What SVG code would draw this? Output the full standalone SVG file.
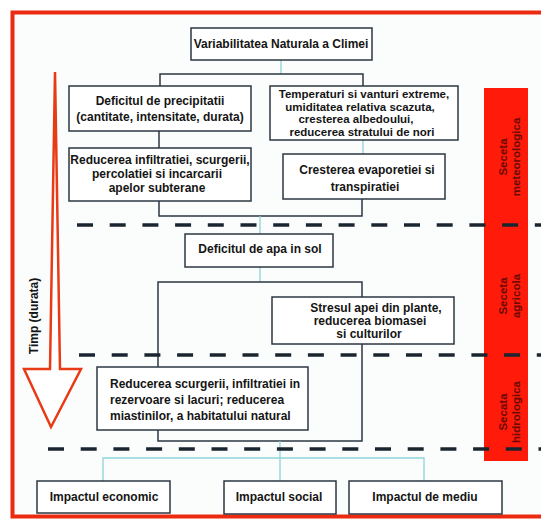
<svg xmlns="http://www.w3.org/2000/svg" width="541" height="519" viewBox="0 0 541 519">
<style>
.box{fill:#ffffff;stroke:#2c3742;stroke-width:1.5}
.t{font-family:"Liberation Sans",Arial,sans-serif;font-size:12px;font-weight:bold;fill:#151515;text-anchor:middle}
.ts{font-size:11.5px}
.tl{text-anchor:start}
.ln{fill:none;stroke:#2c3742;stroke-width:1.5}
.lt{fill:none;stroke:#8fd3da;stroke-width:1.3}
.dash{fill:none;stroke:#1b2530;stroke-width:3.5;stroke-dasharray:16 16.7}
.rt{font-family:"Liberation Sans",Arial,sans-serif;font-size:11.5px;font-weight:bold;fill:#6a0a00;text-anchor:middle}
</style>
<rect x="0" y="0" width="541" height="519" fill="#ffffff"/>
<rect x="12.5" y="12.5" width="540" height="504" fill="#fbfdfd" stroke="#ec2a10" stroke-width="4"/>

<g id="bar-red">
<rect x="484" y="88" width="44" height="373" fill="#ff1a0a"/>
<text class="rt" transform="translate(507,157) rotate(-90)"><tspan x="0" y="0">Seceta</tspan><tspan x="0" y="13">meteorologica</tspan></text>
<text class="rt" transform="translate(507,296) rotate(-90)"><tspan x="0" y="0">Seceta</tspan><tspan x="0" y="13">agricola</tspan></text>
<text class="rt" transform="translate(507,412) rotate(-90)"><tspan x="0" y="0">Secata</tspan><tspan x="0" y="13">hidrologica</tspan></text>
</g>

<g id="time-arrow">
<path d="M55,72 L60,369 L81,369 L51,427 L24,369 L50,369 Z" fill="#ffffff" stroke="#e83a14" stroke-width="2.5" stroke-linejoin="miter"/>
<text class="t" transform="translate(38,316) rotate(-90)" x="0" y="0">Timp (durata)</text>
</g>

<g id="connectors">
<path class="lt" d="M281,60 V74"/>
<path class="ln" d="M160,86 V74 H363 V87"/>
<path class="ln" d="M159,131 V148"/>
<path class="lt" d="M363,140 V154"/>
<path class="ln" d="M159,201 V216 H362 V199"/>
<path class="lt" d="M260,216 V234"/>
<path class="lt" d="M260,267 V282"/>
<path class="ln" d="M158,282 H362 V441 H158 Z"/>
<path class="lt" d="M280,441 V481"/>
<path class="lt" d="M103,481 V458 H424 V481"/>
</g>

<g id="dashes">
<path class="dash" d="M77,225 H541"/>
<path class="dash" d="M79,355 H541"/>
<path class="dash" d="M48,449 H541"/>
</g>

<g id="n-variabilitatea">
<rect class="box" x="191" y="28" width="181" height="32"/>
<text class="t" x="281" y="48">Variabilitatea Naturala a Climei</text>
</g>

<g id="n-deficit-precip">
<rect class="box" x="69" y="86" width="182" height="45"/>
<text class="t" x="160" y="105">Deficitul de precipitatii</text>
<text class="t" x="160" y="121">(cantitate, intensitate, durata)</text>
</g>

<g id="n-temperaturi">
<rect class="box" x="270" y="86" width="188" height="54"/>
<text class="t ts" x="364" y="98">Temperaturi si vanturi extreme,</text>
<text class="t ts" x="360" y="110.5">umiditatea relativa scazuta,</text>
<text class="t ts" x="356" y="123">cresterea albedoului,</text>
<text class="t ts" x="362" y="135.5">reducerea stratului de  nori</text>
</g>

<g id="n-reducerea-infiltratiei">
<rect class="box" x="69" y="148" width="182" height="53"/>
<text class="t" x="160" y="164">Reducerea infiltratiei, scurgerii,</text>
<text class="t" x="157" y="178">percolatiei si incarcarii</text>
<text class="t" x="157" y="192">apelor subterane</text>
</g>

<g id="n-cresterea">
<rect class="box" x="283" y="154" width="162" height="45"/>
<text class="t" x="367" y="174">Cresterea evaporetiei si</text>
<text class="t" x="365" y="191">transpiratiei</text>
</g>

<g id="n-deficit-apa">
<rect class="box" x="185" y="234" width="148" height="33"/>
<text class="t" x="260" y="253">Deficitul de apa in sol</text>
</g>

<g id="n-stresul">
<rect class="box" x="272" y="297" width="182" height="47"/>
<text class="t" x="376" y="312">Stresul apei din plante,</text>
<text class="t" x="370" y="325">reducerea biomasei</text>
<text class="t" x="369" y="338">si culturilor</text>
</g>

<g id="n-reducerea-scurgerii">
<rect class="box" x="97" y="367" width="211" height="63"/>
<text class="t tl" x="110" y="388">Reducerea scurgerii, infiltratiei in</text>
<text class="t tl" x="110" y="404">rezervoare si lacuri; reducerea</text>
<text class="t tl" x="110" y="420">miastinilor, a habitatului natural</text>
</g>

<g id="n-economic">
<rect class="box" x="37" y="481" width="133" height="32"/>
<text class="t" x="104" y="501">Impactul economic</text>
</g>

<g id="n-social">
<rect class="box" x="224" y="481" width="112" height="33"/>
<text class="t" x="279" y="501">Impactul social</text>
</g>

<g id="n-mediu">
<rect class="box" x="349" y="481" width="153" height="33"/>
<text class="t" x="425" y="501">Impactul de mediu</text>
</g>
</svg>
